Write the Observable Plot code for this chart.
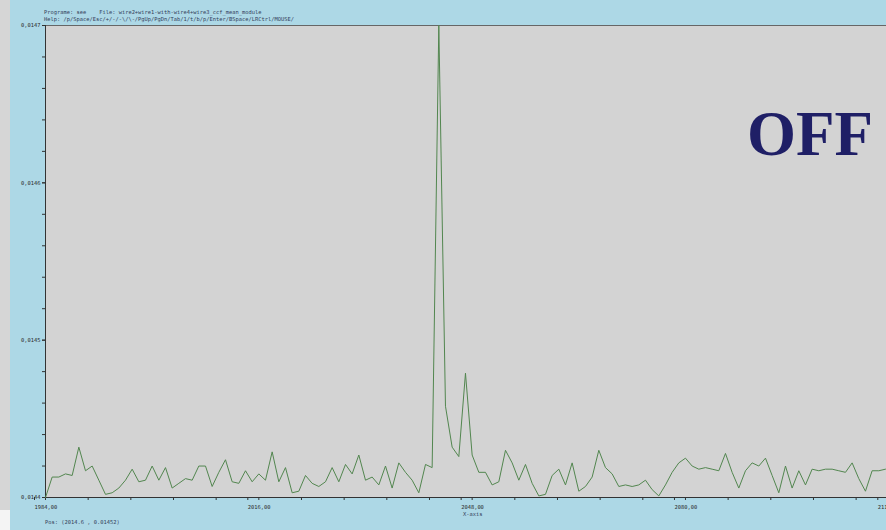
<!DOCTYPE html>
<html>
<head>
<meta charset="utf-8">
<script src="https://cdn.jsdelivr.net/npm/d3@7"></script>
<script src="https://cdn.jsdelivr.net/npm/@observablehq/plot@0.6"></script>
<style>
html,body{margin:0;padding:0;width:886px;height:530px;overflow:hidden;background:#add8e6;}
#wrap{position:relative;width:886px;height:530px;}
#chart{position:absolute;left:0;top:0;}
#strip{position:absolute;left:0;top:0;width:10px;height:510px;background:#d6d6d6;}
#strip2{position:absolute;left:0;top:510px;width:10px;height:20px;background:#f4f4f4;}
.mono{position:absolute;font-family:"DejaVu Sans Mono",monospace;font-size:5.4px;color:#33405a;white-space:pre;line-height:1;}
#off{position:absolute;left:747px;top:103px;font-family:"Liberation Serif","Times New Roman",serif;font-weight:bold;font-size:63px;line-height:1;color:#1f1f66;}
</style>
</head>
<body>
<div id="wrap">
  <div id="chart"></div>
  <div id="strip"></div>
  <div id="strip2"></div>
  <div class="mono" style="left:44px;top:10px;">Programe: see    File: wire2+wire1-with-wire4+wire3_ccf_mean_module</div>
  <div class="mono" style="left:44px;top:17px;">Help: /p/Space/Esc/+/-/-\/\-/PgUp/PgDn/Tab/1/t/b/p/Enter/BSpace/LRCtrl/MOUSE/</div>
  <div class="mono" style="left:463px;top:512px;">X-axis</div>
  <div class="mono" style="left:45px;top:520px;">Pos: (2014.6 , 0.01452)</div>
  <div id="off">OFF</div>
</div>
<script>
// x of the first sample; samples are one unit apart
const xStart = 1984;
// series values (mean module), one per unit from 1984 to 2110
const values = [
  0.014400, 0.014413, 0.014413, 0.014415, 0.014414, 0.014432, 0.014417, 0.014420, 0.014411, 0.014402,
  0.014403, 0.014406, 0.014411, 0.014418, 0.014410, 0.014411, 0.014420, 0.014411, 0.014419, 0.014406,
  0.014409, 0.014412, 0.014411, 0.014420, 0.014420, 0.014407, 0.014416, 0.014424, 0.014410, 0.014409,
  0.014417, 0.014410, 0.014415, 0.014411, 0.014429, 0.014410, 0.014419, 0.014403, 0.014404, 0.014414,
  0.014409, 0.014407, 0.014410, 0.014419, 0.014410, 0.014421, 0.014415, 0.014427, 0.014411, 0.014413,
  0.014408, 0.014420, 0.014406, 0.014422, 0.014416, 0.014411, 0.014403, 0.014421, 0.014419, 0.014700,
  0.014458, 0.014432, 0.014426, 0.014479, 0.014427, 0.014416, 0.014416, 0.014408, 0.014410, 0.014430,
  0.014422, 0.014411, 0.014421, 0.014409, 0.014401, 0.014402, 0.014414, 0.014418, 0.014408, 0.014422,
  0.014404, 0.014407, 0.014413, 0.014430, 0.014419, 0.014415, 0.014407, 0.014408, 0.014407, 0.014408,
  0.014411, 0.014405, 0.014401, 0.014408, 0.014416, 0.014422, 0.014425, 0.014420, 0.014418, 0.014419,
  0.014418, 0.014417, 0.014428, 0.014416, 0.014406, 0.014417, 0.014422, 0.014420, 0.014425, 0.014414,
  0.014403, 0.014420, 0.014406, 0.014417, 0.014408, 0.014418, 0.014417, 0.014418, 0.014418, 0.014417,
  0.014416, 0.014422, 0.014412, 0.014404, 0.014417, 0.014417, 0.014418
];
// axis ticks and labels
const xTickValues = [1984, 2016, 2048, 2080];
const xTickLabels = ["1984,00", "2016,00", "2048,00", "2080,00"];
const xEdgeTick = [2112];
const xEdgeLabel = ["2112,00"];
const xMinorStep = 6.4;
const yTickValues = [0.0144, 0.0145, 0.0146, 0.0147];
const yTickLabels = ["0,0144", "0,0145", "0,0146", "0,0147"];
const yMinorStep = 0.00002;

const data = values.map((v, i) => ({x: xStart + i, value: v}));
const xMinor = d3.range(0, 21).map(i => xStart + i * xMinorStep);
const yMinor = d3.range(0, 16).map(i => +(0.0144 + i * yMinorStep).toFixed(6));
const xLab = new Map(xTickValues.map((v, i) => [v, xTickLabels[i]]));
const yLab = new Map(yTickValues.map((v, i) => [v, yTickLabels[i]]));

const chart = Plot.plot({
  width: 886,
  height: 530,
  marginLeft: 45,
  marginRight: 0,
  marginTop: 25,
  marginBottom: 33,
  style: {background: "transparent", fontFamily: "DejaVu Sans Mono", fontSize: "5.4px", color: "#2a2a2a", overflow: "hidden"},
  x: {domain: [1984, 2112], range: [45, 898.3], label: null},
  y: {domain: [0.0144, 0.0147], label: null},
  marks: [
    Plot.frame({fill: "#d3d3d3", stroke: null}),
    Plot.axisY(yMinor, {tickSize: 3, text: null, stroke: "#333", label: null}),
    Plot.axisY(yTickValues, {tickSize: 3, tickPadding: 2, stroke: "#333", tickFormat: d => yLab.get(d), label: null, fill: "#2a2a2a"}),
    Plot.axisX(xMinor, {tickSize: 3, text: null, stroke: "#333", label: null}),
    Plot.axisX(xTickValues, {tickSize: 3, tickPadding: 5, stroke: "#333", tickFormat: d => xLab.get(d), textAnchor: "start", dx: -11, label: null, fill: "#2a2a2a"}),
    Plot.axisX(xEdgeTick, {tickSize: 3, tickPadding: 5, stroke: "#333", tickFormat: () => xEdgeLabel[0], textAnchor: "start", dx: -21, label: null, fill: "#2a2a2a"}),
    Plot.ruleY([0.0147], {stroke: "#666", strokeWidth: 1}),
    Plot.ruleX([1984], {stroke: "#333", strokeWidth: 1}),
    Plot.ruleY([0.0144], {stroke: "#333", strokeWidth: 1}),
    Plot.line(data, {x: "x", y: "value", stroke: "#52864f", strokeWidth: 1})
  ]
});
document.getElementById("chart").appendChild(chart);
</script>
</body>
</html>
